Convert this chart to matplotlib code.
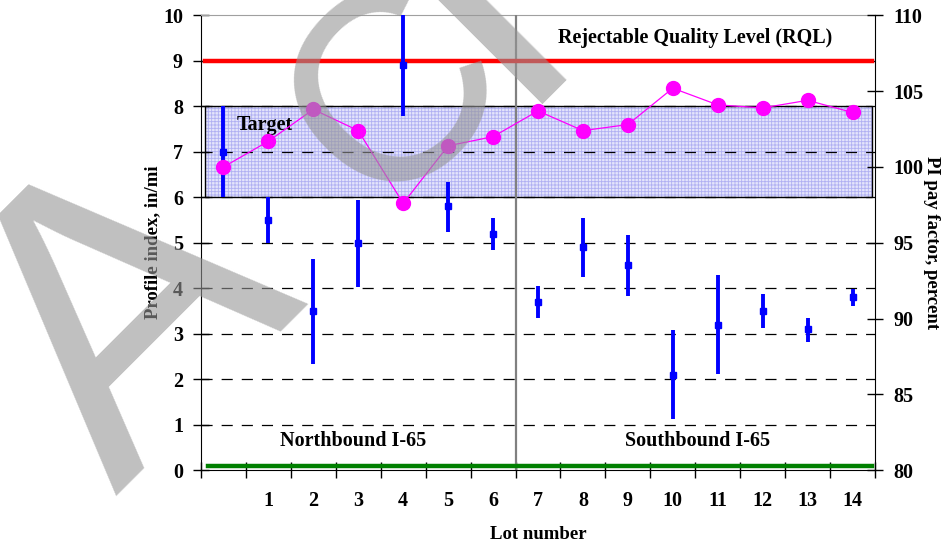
import matplotlib.pyplot as plt
import numpy as np

plt.rcParams['font.family'] = ['Liberation Serif', 'DejaVu Serif']
plt.rcParams['font.weight'] = 'bold'
plt.rcParams['axes.labelweight'] = 'bold'
plt.rcParams['hatch.linewidth'] = 0.6
plt.rcParams['lines.scale_dashes'] = False

# lot 0 is the unlabeled control section
lots = np.arange(15)
lot_labels = [''] + [str(i) for i in range(1, 15)]

# profile index per lot: mean and range, in/mi
pi_mean = [7.0, 5.5, 3.5, 5.0, 8.9, 5.8, 5.2, 3.7, 4.9, 4.5, 2.1, 3.2, 3.5, 3.1, 3.8]
pi_low = [6.0, 5.0, 2.33, 4.02, 7.79, 5.24, 4.84, 3.34, 4.25, 3.83, 1.12, 2.11, 3.12, 2.82, 3.61]
pi_high = [8.0, 6.0, 4.64, 5.95, 10.0, 6.34, 5.54, 4.05, 5.54, 5.17, 3.07, 4.28, 3.87, 3.35, 3.98]

# PI pay factor per lot, percent
pay_factor = [100.0, 101.7, 103.8, 102.4, 97.6, 101.4, 102.0, 103.7, 102.4, 102.8,
              105.2, 104.1, 103.9, 104.4, 103.6]

rql = 9.0
target_band = (6.0, 8.0)
baseline = 0.08
direction_split = 6.5

fig = plt.figure(figsize=(9.45, 5.43), dpi=100)
ax = fig.add_axes([0.2127, 0.1344, 0.7132, 0.8371])
ax.set_xlim(-0.5, 14.5)
ax.set_ylim(0, 10)

# target band: hatched fill plus a thin black border
ax.axhspan(*target_band, xmin=0.006, xmax=0.995, facecolor='#e4e4fb',
           edgecolor='#b0b0f2', hatch='+++++', lw=0, zorder=1)
ax.axhspan(*target_band, xmin=0.006, xmax=0.995, facecolor='none',
           edgecolor='black', lw=1.0, zorder=2)

# dashed gridlines
ax.set_yticks(np.arange(0, 11, 1))
for y in ax.get_yticks()[1:-1]:
    ax.axhline(y, color='black', lw=0.9, ls=(0, (8, 6.5)), zorder=2.5)

ax.axhline(rql, xmin=0.006, xmax=0.995, color='#ff0000', lw=3.2, zorder=3)
ax.axhline(baseline, xmin=0.0105, xmax=0.995, color='#008000', lw=3.2, zorder=3)
ax.axvline(direction_split, color='#808080', lw=1.6, zorder=2.8)

# profile index ranges
ax.vlines(lots, pi_low, pi_high, color='#0000ff', lw=2.8, zorder=4)
ax.plot(lots, pi_mean, 's', color='#0000ff', ms=4.5, zorder=4)

ax.text(10.5, 9.5, 'Rejectable Quality Level (RQL)', ha='center', va='center', fontsize=14.5)
ax.text(0.3, 7.6, 'Target', ha='left', va='center', fontsize=14.5, zorder=5)
ax.text(2.88, 0.64, 'Northbound I-65', ha='center', va='center', fontsize=14.5)
ax.text(10.55, 0.64, 'Southbound I-65', ha='center', va='center', fontsize=14.5)

ax.set_xticks(np.arange(-0.5, 15, 1))
ax.set_xticklabels([])
ax.set_xticks(lots, minor=True)
ax.set_xticklabels(lot_labels, minor=True)
ax.tick_params(axis='x', which='major', direction='inout', length=12, width=1)
ax.tick_params(axis='x', which='minor', length=0, pad=15, labelsize=14.5)
ax.tick_params(axis='y', direction='inout', length=12, width=1, pad=7, labelsize=14.5)

ax.spines['top'].set_color('#a0a0a0')
ax.spines['right'].set_visible(False)
ax.set_xlabel('Lot number', fontsize=13.5, labelpad=11)
ax.set_ylabel('Profile index, in/mi', fontsize=13.5, labelpad=1)

# pay factor on the secondary axis
ax2 = ax.twinx()
ax2.set_ylim(80, 110)
ax2.set_yticks(np.arange(80, 111, 5))
ax2.plot(lots, pay_factor, '-o', color='#ff00ff', lw=0.9, ms=10, zorder=5)
for side in ('top', 'left', 'bottom'):
    ax2.spines[side].set_visible(False)
ax2.tick_params(axis='y', direction='inout', length=12, width=1, pad=7, labelsize=14.5)
ax2.set_ylabel('PI pay factor, percent', fontsize=13.5, rotation=-90, labelpad=12)

# watermark, drawn over everything
wm = dict(family=['Liberation Sans', 'DejaVu Sans'], weight='normal', color='#969696',
          alpha=0.6, rotation=45, rotation_mode='anchor', zorder=20)
fig.text(212 / 945, 1 - 400 / 543, 'A', fontsize=295, ha='center', va='baseline', **wm)
fig.text(448 / 945, 1 - 146 / 543, 'C', fontsize=195, ha='center', va='baseline', **wm)
fig.text(545 / 945, 1 - 68 / 543, 'I', fontsize=265, ha='center', va='baseline', **wm)

fig.savefig('out.png', dpi=100)
